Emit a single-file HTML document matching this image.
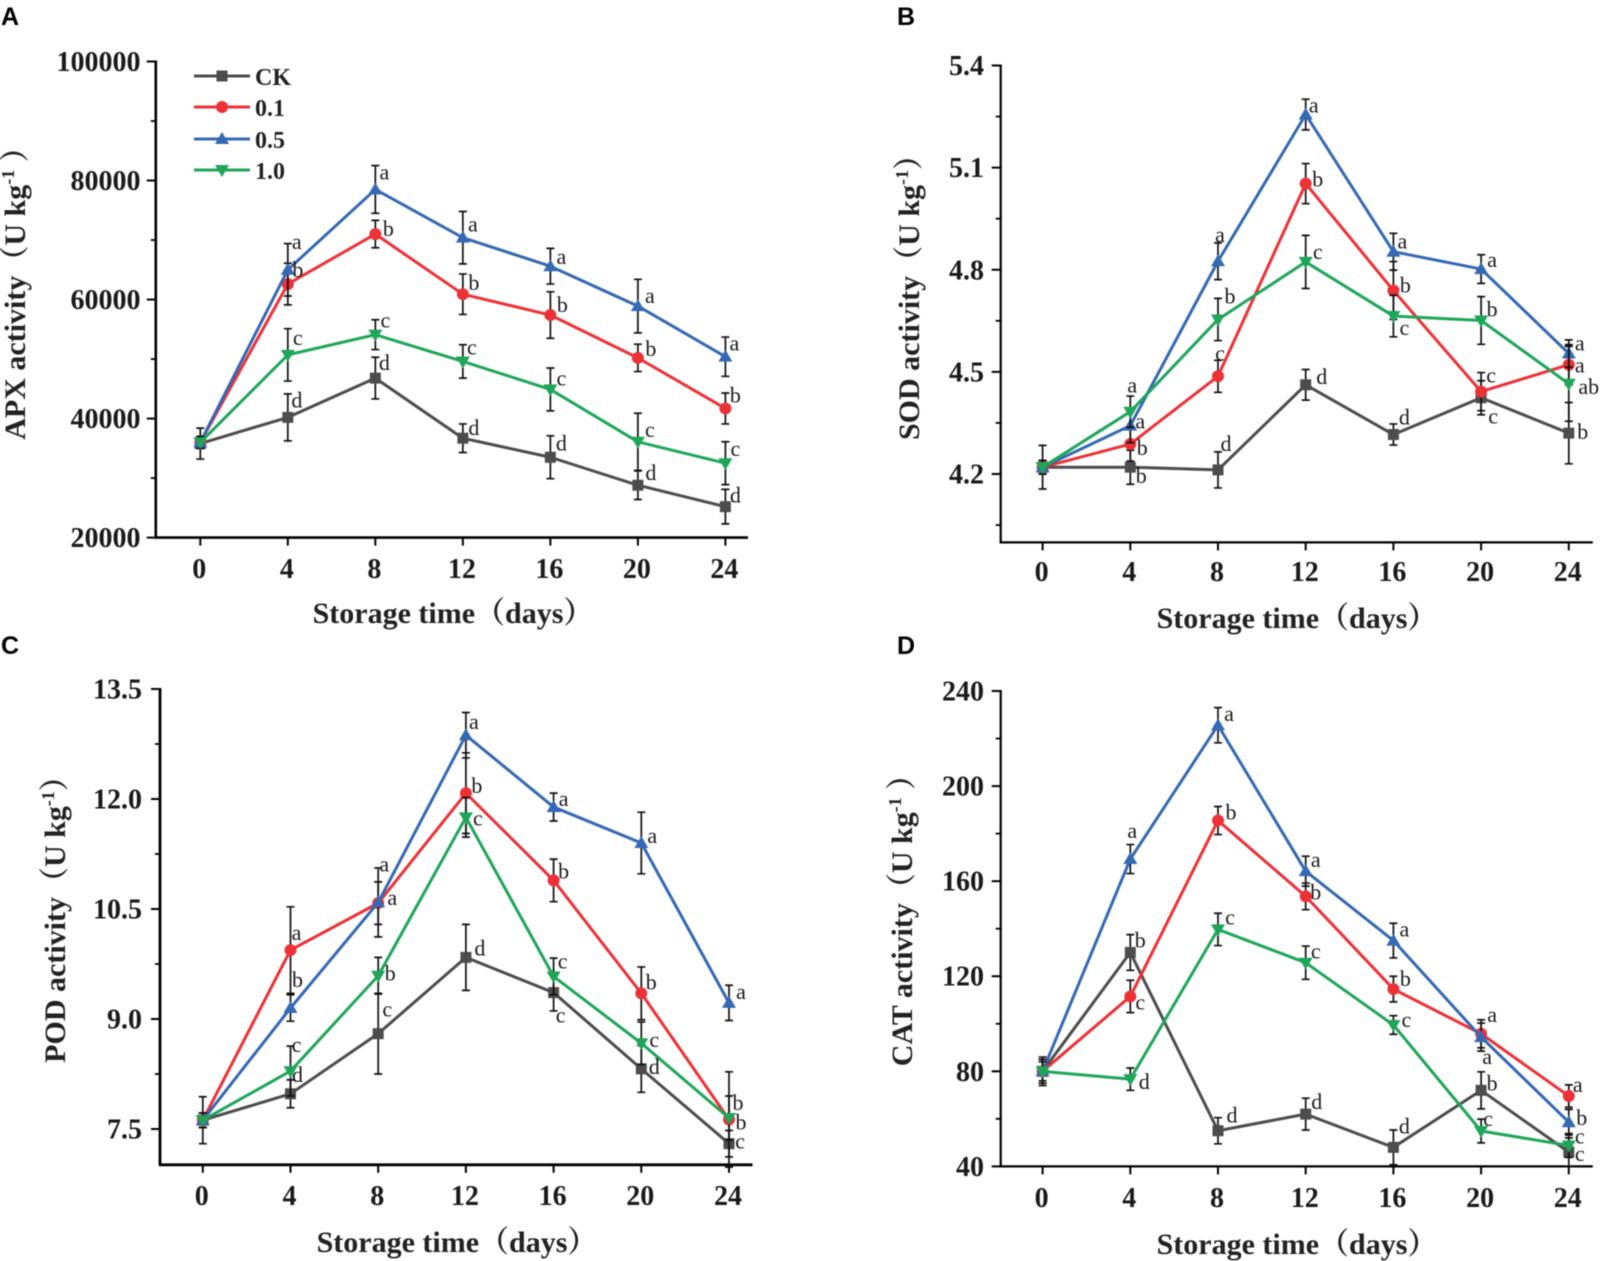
<!DOCTYPE html>
<html lang="en">
<head>
<meta charset="utf-8">
<title>Antioxidant enzyme activity during storage</title>
<style>
html,body{margin:0;padding:0;background:#fff;}
body{width:1602px;height:1261px;overflow:hidden;}
svg{display:block;filter:blur(0.6px);}
text{font-family:"Liberation Serif","Noto Serif CJK SC",serif;fill:#1a1a1a;}
.panel-letter{font-family:"Liberation Sans",sans-serif;font-weight:700;font-size:25px;fill:#000;}
.axis-title{font-weight:700;font-size:30px;fill:#222;}
.legend-text{font-weight:700;font-size:24px;fill:#222;}
.sup{font-size:18px;}
</style>
</head>
<body>
<svg id="figure" xmlns="http://www.w3.org/2000/svg" width="1602" height="1261" viewBox="0 0 1602 1261">
  <rect width="1602" height="1261" fill="#fff"/>

  <text class="panel-letter" x="1" y="25">A</text>
  <text class="panel-letter" x="897" y="25">B</text>
  <text class="panel-letter" x="1" y="654">C</text>
  <text class="panel-letter" x="897" y="654">D</text>

  <text class="axis-title" x="453" y="623" text-anchor="middle">Storage time（days）</text>
  <text class="axis-title" x="1297" y="628" text-anchor="middle">Storage time（days）</text>
  <text class="axis-title" x="457" y="1252" text-anchor="middle">Storage time（days）</text>
  <text class="axis-title" x="1297" y="1254" text-anchor="middle">Storage time（days）</text>

  <text class="axis-title" transform="translate(25,286) rotate(-90)" text-anchor="middle">APX activity（U kg<tspan class="sup" dy="-11">-1</tspan><tspan dy="11"> ）</tspan></text>
  <text class="axis-title" transform="translate(919,290) rotate(-90)" text-anchor="middle">SOD activity（U kg<tspan class="sup" dy="-11">-1</tspan><tspan dy="11">）</tspan></text>
  <text class="axis-title" transform="translate(65,912) rotate(-90)" text-anchor="middle">POD activity（U kg<tspan class="sup" dy="-11">-1</tspan><tspan dy="11">）</tspan></text>
  <text class="axis-title" transform="translate(912,913) rotate(-90)" text-anchor="middle">CAT activity（U kg<tspan class="sup" dy="-11">-1</tspan><tspan dy="11"> ）</tspan></text>

  <g>
    <g>
      <line x1="194" x2="250" y1="76" y2="76" stroke="#4d4d4d" stroke-width="3"/>
      <rect x="216.500" y="70.500" width="11" height="11" fill="#4d4d4d"/>
      <text class="legend-text" x="255" y="85">CK</text>
    </g>
    <g>
      <line x1="194" x2="250" y1="107" y2="107" stroke="#ec3237" stroke-width="3"/>
      <circle cx="222" cy="107" r="6" fill="#ec3237"/>
      <text class="legend-text" x="255" y="116">0.1</text>
    </g>
    <g>
      <line x1="194" x2="250" y1="139" y2="139" stroke="#3569b4" stroke-width="3"/>
      <polygon points="222,132 229,144 215,144" fill="#3569b4"/>
      <text class="legend-text" x="255" y="148">0.5</text>
    </g>
    <g>
      <line x1="194" x2="250" y1="170" y2="170" stroke="#1fa65a" stroke-width="3"/>
      <polygon points="215,165 229,165 222,177" fill="#1fa65a"/>
      <text class="legend-text" x="255" y="179">1.0</text>
    </g>
  </g>

  <g id="charts"></g>
</svg>

<script>
// ---------- shared categories ----------
const days = [0, 4, 8, 12, 16, 20, 24];
const xTickLabels = ['0', '4', '8', '12', '16', '20', '24'];
const seriesNames = ['CK', '0.1', '0.5', '1.0'];

// ---------- panel A: APX ----------
const apxTicks = [20000, 40000, 60000, 80000, 100000];
const apxTickLabels = ['20000', '40000', '60000', '80000', '100000'];
const apxMinorTicks = [30000, 50000, 70000, 90000];
const apxCK = [35800, 40200, 46800, 36700, 33500, 28800, 25200];
const apxLow = [36000, 62600, 71000, 60900, 57400, 50200, 41700];
const apxMid = [36000, 65000, 78500, 70400, 65600, 58900, 50400];
const apxHigh = [36000, 50700, 54100, 49600, 44900, 36100, 32500];
const apxCKErr = [2600, 3950, 3500, 2400, 3600, 2400, 2900];
const apxLowErr = [1000, 3500, 2300, 3400, 3900, 2300, 2600];
const apxMidErr = [1000, 4400, 4000, 4400, 3000, 4500, 3300];
const apxHighErr = [1000, 4400, 2500, 2800, 3600, 4800, 3600];
const apxCKLetters = ['', 'd', 'd', 'd', 'd', 'd', 'd'];
const apxLowLetters = ['', 'b', 'b', 'b', 'b', 'b', 'b'];
const apxMidLetters = ['', 'a', 'a', 'a', 'a', 'a', 'a'];
const apxHighLetters = ['', 'c', 'c', 'c', 'c', 'c', 'c'];

// ---------- panel B: SOD ----------
const sodTicks = [4.2, 4.5, 4.8, 5.1, 5.4];
const sodTickLabels = ['4.2', '4.5', '4.8', '5.1', '5.4'];
const sodMinorTicks = [4.05, 4.35, 4.65, 4.95, 5.25];
const sodCK = [4.22, 4.22, 4.212, 4.462, 4.316, 4.424, 4.32];
const sodLow = [4.22, 4.288, 4.487, 5.053, 4.739, 4.442, 4.521];
const sodMid = [4.22, 4.342, 4.825, 5.256, 4.853, 4.802, 4.554];
const sodHigh = [4.22, 4.383, 4.654, 4.823, 4.664, 4.651, 4.465];
const sodCKErr = [0.064, 0.05, 0.053, 0.045, 0.031, 0.05, 0.09];
const sodLowErr = [0.02, 0.05, 0.047, 0.059, 0.085, 0.056, 0.059];
const sodMidErr = [0.02, 0.05, 0.054, 0.045, 0.054, 0.042, 0.04];
const sodHighErr = [0.02, 0.046, 0.062, 0.078, 0.061, 0.07, 0.11];
const sodCKLetters = ['', 'b', 'd', 'd', 'd', 'c', 'b'];
const sodLowLetters = ['', 'b', 'c', 'b', 'b', 'c', 'a'];
const sodMidLetters = ['', 'a', 'a', 'a', 'a', 'a', 'a'];
const sodHighLetters = ['', 'a', 'b', 'c', 'c', 'b', 'ab'];

// ---------- panel C: POD ----------
const podTicks = [7.5, 9, 10.5, 12, 13.5];
const podTickLabels = ['7.5', '9.0', '10.5', '12.0', '13.5'];
const podMinorTicks = [8.25, 9.75, 11.25, 12.75];
const podCK = [7.62, 7.98, 8.8, 9.84, 9.36, 8.32, 7.3];
const podLow = [7.62, 9.94, 10.58, 12.08, 10.89, 9.35, 7.63];
const podMid = [7.62, 9.15, 10.59, 12.87, 11.89, 11.4, 9.22];
const podHigh = [7.62, 8.29, 9.59, 11.75, 9.58, 8.67, 7.65];
const podCKErr = [0.32, 0.19, 0.55, 0.45, 0.25, 0.32, 0.18];
const podLowErr = [0.1, 0.59, 0.29, 0.55, 0.29, 0.36, 0.65];
const podMidErr = [0.1, 0.18, 0.47, 0.31, 0.19, 0.42, 0.24];
const podHighErr = [0.1, 0.34, 0.25, 0.27, 0.25, 0.29, 0.3];
const podCKLetters = ['', 'd', 'c', 'd', 'c', 'd', 'c'];
const podLowLetters = ['', 'a', 'a', 'b', 'b', 'b', 'b'];
const podMidLetters = ['', 'b', 'a', 'a', 'a', 'a', 'a'];
const podHighLetters = ['', 'c', 'b', 'c', 'c', 'c', 'b'];

// ---------- panel D: CAT ----------
const catTicks = [40, 80, 120, 160, 200, 240];
const catTickLabels = ['40', '80', '120', '160', '200', '240'];
const catMinorTicks = [60, 100, 140, 180, 220];
const catCK = [80, 130, 55, 62, 48, 72, 46];
const catLow = [80, 111.5, 185.5, 153.6, 114.6, 95.8, 69.6];
const catMid = [80, 169.3, 225.6, 164.2, 135, 94.4, 58.6];
const catHigh = [80, 76.7, 139.7, 125.7, 99.5, 54.9, 48.8];
const catCKErr = [6, 7.5, 5.5, 6.7, 7.3, 7.8, 6];
const catLowErr = [5, 6.8, 5.9, 5.6, 5.4, 5.9, 4.7];
const catMidErr = [5, 6.1, 7.4, 6.3, 7.3, 5.9, 5.4];
const catHighErr = [4, 4.7, 6.8, 7, 3.9, 5, 5];
const catCKLetters = ['', 'b', 'd', 'd', 'd', 'b', 'c'];
const catLowLetters = ['', 'c', 'b', 'b', 'b', 'a', 'a'];
const catMidLetters = ['', 'a', 'a', 'a', 'a', 'a', 'b'];
const catHighLetters = ['', 'd', 'c', 'c', 'c', 'c', 'c'];

// ---------- layout only (pixels, offsets from each marker) ----------
const seriesColors = ['#4d4d4d', '#ec3237', '#3569b4', '#1fa65a'];
const seriesKeys = ['ck', '0-1', '0-5', '1-0'];
const apxNudgeX = [[0,9,9,11,11,13,10],[0,10,13,11,12,13,10],[0,9,9,10,11,12,9],[0,10,10,9,11,12,10]];
const apxNudgeY = [[0,-16,-14,-9,-13,-11,-10],[0,-13,-4,-10,-9,-8,-12],[0,-27,-16,-12,-8,-9,-12],[0,-16,-13,-13,-10,-11,-13]];
const sodNudgeX = [[0,11,8,16,11,12,14],[0,12,2,12,12,10,11],[0,10,2,8,9,11,11],[0,2,12,12,11,11,20]];
const sodNudgeY = [[0,10,-25,-7,-16,20,0],[0,5,-22,-3,-4,-15,2],[0,-3,-25,-8,-9,-8,-9],[0,-25,-22,-9,13,-10,4]];
const podNudgeX = [[0,7,9,14,7,13,11],[0,6,14,11,10,10,12],[0,7,6,8,10,11,12],[0,6,12,12,9,13,9]];
const podNudgeY = [[0,-18,-23,-8,24,-1,-1],[0,-16,-4,-6,-8,-10,4],[0,-27,-37,-12,-7,-6,-10],[0,-25,-1,2,-14,-2,-14]];
const catNudgeX = [[0,10,14,11,11,11,11],[0,10,13,10,12,11,9],[0,2,11,10,11,6,13],[0,14,12,10,13,7,11]];
const catNudgeY = [[0,-11,-14,-11,-20,-6,3],[0,7,-7,-3,-9,-18,-10],[0,-27,-10,-10,-10,21,-3],[0,4,-11,-10,-4,-11,-8]];

const apxLayout = {id:'a', x0:200.3, x24:725.4, vLow:20000, yLow:537.6, vHigh:100000, yHigh:61.5, axisX:155.8, axisBottom:537.6, axisRight:748, labelRight:140.5, xLabelY:577, axisWidth:2.6};
const sodLayout = {id:'b', x0:1042.6, x24:1568.8, vLow:4.2, yLow:474, vHigh:5.4, yHigh:65.5, axisX:1000.7, axisBottom:542.4, axisRight:1592.8, labelRight:984, xLabelY:580, axisWidth:2.2};
const podLayout = {id:'c', x0:202.8, x24:729, vLow:7.5, yLow:1129, vHigh:13.5, yHigh:689, axisX:160, axisBottom:1164.8, axisRight:752.5, labelRight:142, xLabelY:1204, axisWidth:2.8};
const catLayout = {id:'d', x0:1042.6, x24:1568.8, vLow:40, yLow:1166.4, vHigh:240, yHigh:691, axisX:1000.7, axisBottom:1166.4, axisRight:1592.8, labelRight:984, xLabelY:1206, axisWidth:2.2};

const SVG_NS = 'http://www.w3.org/2000/svg';
function make(tag, attrs, parent) {
  const node = document.createElementNS(SVG_NS, tag);
  for (const k in attrs) node.setAttribute(k, attrs[k]);
  parent.appendChild(node);
  return node;
}
function xScale(day, L) {
  return L.x0 + (day - days[0]) / (days[days.length - 1] - days[0]) * (L.x24 - L.x0);
}
function yScale(v, L) {
  return L.yLow + (v - L.vLow) / (L.vHigh - L.vLow) * (L.yHigh - L.yLow);
}

function drawAxes(L, ticks, tickLabels, minorTicks, root) {
  const g = make('g', {}, root);
  
  
  const yAxis = make('line', {x1:L.axisX, x2:L.axisX, y1:L.yHigh - 1, y2:L.axisBottom + 1, stroke:'#000', 'stroke-width':L.axisWidth}, g);
  
  
  const xAxis = make('line', {x1:L.axisX - 1, x2:L.axisRight, y1:L.axisBottom, y2:L.axisBottom, stroke:'#000', 'stroke-width':L.axisWidth}, g);
  
  
  ticks.forEach((t, i) => {
    const y = yScale(t, L);
    const tick = make('line', {x1:L.axisX - 9, x2:L.axisX, y1:y, y2:y, stroke:'#000', 'stroke-width':2}, g);
    
    
    const label = make('text', {x:L.labelRight, y:y + 9.5, 'text-anchor':'end', 'font-size':28, 'font-weight':700}, g);
    label.textContent = tickLabels[i];
    
    
  });
  minorTicks.forEach(t => {
    const y = yScale(t, L);
    const minor = make('line', {x1:L.axisX - 5, x2:L.axisX, y1:y, y2:y, stroke:'#000', 'stroke-width':1.8}, g);
    
    
  });
  days.forEach((d, i) => {
    const x = xScale(d, L);
    const tick = make('line', {x1:x, x2:x, y1:L.axisBottom, y2:L.axisBottom + 8, stroke:'#000', 'stroke-width':2}, g);
    
    
    const label = make('text', {x:x - 1, y:L.xLabelY + 1, 'text-anchor':'middle', 'font-size':28, 'font-weight':700}, g);
    label.textContent = xTickLabels[i];
    
    
  });
}

function drawMarker(kind, x, y, color, g) {
  let m;
  if (kind === 0) {
    m = make('rect', {x:x - 5.5, y:y - 5.5, width:11, height:11, fill:color}, g);
  } else if (kind === 1) {
    m = make('circle', {cx:x, cy:y, r:6, fill:color}, g);
  } else if (kind === 2) {
    m = make('polygon', {points:[x, y - 7, x + 7, y + 5, x - 7, y + 5].join(' '), fill:color}, g);
  } else {
    m = make('polygon', {points:[x - 7, y - 5, x + 7, y - 5, x, y + 7].join(' '), fill:color}, g);
  }
  
  
}

function drawSeries(L, s, values, errors, letters, nudgeX, nudgeY, root) {
  const color = seriesColors[s];
  const g = make('g', {}, root);
  
  
  values.forEach((v, i) => {
    const x = xScale(days[i], L);
    const top = yScale(v + errors[i], L);
    const bot = yScale(v - errors[i], L);
    const bar = make('path', {d:`M${x - 4} ${top}H${x + 4}M${x} ${top}V${bot}M${x - 4} ${bot}H${x + 4}`, fill:'none', stroke:'#111', 'stroke-width':1.7}, g);
    
    
  });
  const pts = values.map((v, i) => xScale(days[i], L) + ',' + yScale(v, L)).join(' ');
  const line = make('polyline', {points:pts, fill:'none', stroke:color, 'stroke-width':3, 'stroke-linejoin':'round'}, g);
  
  
  values.forEach((v, i) => {
    drawMarker(s, xScale(days[i], L), yScale(v, L), color, g);
  });
}

function drawLetters(L, values, letters, nudgeX, nudgeY, root) {
  values.forEach((v, i) => {
    if (!letters[i]) return;
    const t = make('text', {x:xScale(days[i], L) + nudgeX[i], y:yScale(v, L) + nudgeY[i] + 6, 'text-anchor':'middle', 'font-size':22, fill:'#333'}, root);
    t.textContent = letters[i];
    
    
  });
}

function drawPanel(L, ticks, tickLabels, minorTicks, allValues, allErrors, allLetters, nudgeX, nudgeY) {
  const root = document.getElementById('charts');
  const panel = make('g', {}, root);
  
  
  drawAxes(L, ticks, tickLabels, minorTicks, panel);
  allValues.forEach((vals, s) => {
    drawSeries(L, s, vals, allErrors[s], allLetters[s], nudgeX[s], nudgeY[s], panel);
  });
  allValues.forEach((vals, s) => {
    drawLetters(L, vals, allLetters[s], nudgeX[s], nudgeY[s], panel);
  });
}

drawPanel(apxLayout, apxTicks, apxTickLabels, apxMinorTicks,
  [apxCK, apxLow, apxMid, apxHigh], [apxCKErr, apxLowErr, apxMidErr, apxHighErr],
  [apxCKLetters, apxLowLetters, apxMidLetters, apxHighLetters], apxNudgeX, apxNudgeY);
drawPanel(sodLayout, sodTicks, sodTickLabels, sodMinorTicks,
  [sodCK, sodLow, sodMid, sodHigh], [sodCKErr, sodLowErr, sodMidErr, sodHighErr],
  [sodCKLetters, sodLowLetters, sodMidLetters, sodHighLetters], sodNudgeX, sodNudgeY);
drawPanel(podLayout, podTicks, podTickLabels, podMinorTicks,
  [podCK, podLow, podMid, podHigh], [podCKErr, podLowErr, podMidErr, podHighErr],
  [podCKLetters, podLowLetters, podMidLetters, podHighLetters], podNudgeX, podNudgeY);
drawPanel(catLayout, catTicks, catTickLabels, catMinorTicks,
  [catCK, catLow, catMid, catHigh], [catCKErr, catLowErr, catMidErr, catHighErr],
  [catCKLetters, catLowLetters, catMidLetters, catHighLetters], catNudgeX, catNudgeY);
</script>
</body>
</html>
